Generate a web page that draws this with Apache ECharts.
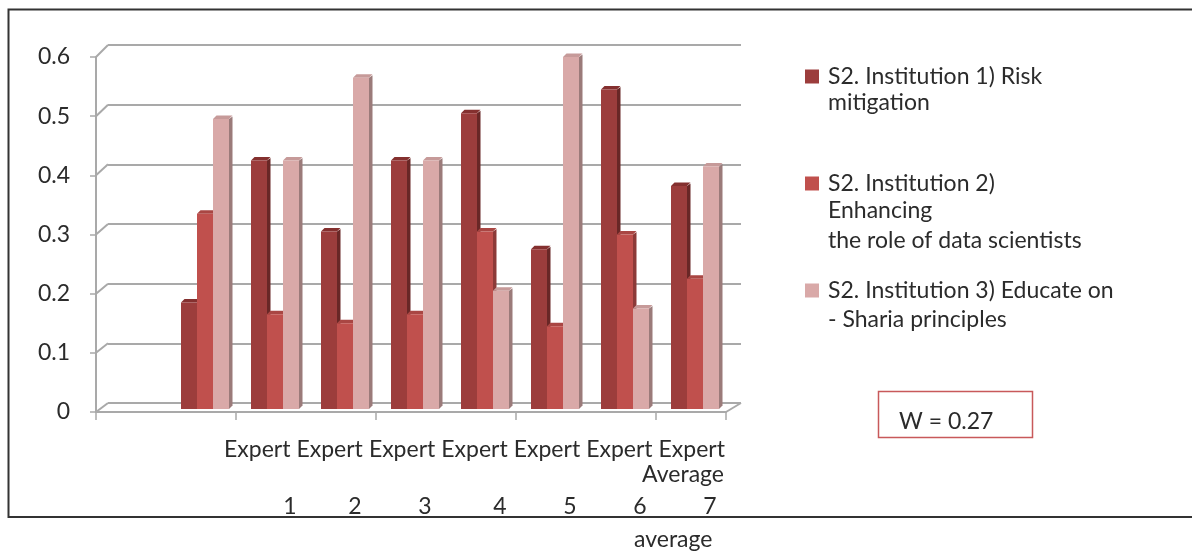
<!DOCTYPE html>
<html>
<head>
<meta charset="utf-8">
<style>html,body{margin:0;padding:0;background:#fff}#chart{width:1192px;height:552px}</style>
<script src="https://cdn.jsdelivr.net/npm/echarts@6/dist/echarts.min.js"></script>
</head>
<body>
<div id="chart"></div>
<script>
// Expert ratings per institution strategy
const slots = ['', 'Expert 1', 'Expert 2', 'Expert 3', 'Expert 4', 'Expert 5', 'Expert 6', 'Expert 7', 'Average average'];
const riskMitigation = [0.18, 0.42, 0.30, 0.42, 0.50, 0.27, 0.54, 0.377];
const dataScientists = [0.33, 0.16, 0.145, 0.16, 0.30, 0.14, 0.295, 0.22];
const shariaPrinciples = [0.49, 0.42, 0.56, 0.42, 0.20, 0.595, 0.17, 0.41];
const seriesNames = ['S2. Institution 1) Risk', 'S2. Institution 2)', 'S2. Institution 3) Educate on'];
const legendExtraLines = [['mitigation'], ['Enhancing', 'the role of data scientists'], ['- Sharia principles']];
const expertLabels = ['Expert', 'Expert', 'Expert', 'Expert', 'Expert', 'Expert', 'Expert'];
const expertNumbers = ['1', '2', '3', '4', '5', '6', '7'];
const statLabel = 'W = 0.27';

const FONT = 'Lato, sans-serif';
const TEXT = '#2b2b2b';
const GRID_GREY = '#a9a9a9';
const FS = 23;
const textStyle = { fontFamily: FONT, fontSize: FS, fill: TEXT, verticalAlign: 'middle' };

// Box-like column: front face plus lit top and shaded right side
function prism(front, side, top) {
  return function (params, api) {
    const base = api.coord([api.value(0), 0]);
    const head = api.coord([api.value(0), api.value(1)]);
    const w = 16, sx = 3.5, sy = 3.5;
    const x = base[0] - 24 + api.value(2) * w;
    const r = x + w;
    return {
      type: 'group',
      children: [
        { type: 'polygon', shape: { points: [[r, head[1]], [r + sx, head[1] - sy + 1], [r + sx, base[1] - sy], [r, base[1]]] }, style: { fill: side } },
        { type: 'polygon', shape: { points: [[x, head[1]], [x + sx, head[1] - sy], [r + sx, head[1] - sy], [r, head[1]]] }, style: { fill: top } },
        { type: 'rect', shape: { x: x, y: head[1], width: w, height: base[1] - head[1] }, style: { fill: front } }
      ]
    };
  };
}

function barSeries(name, values, order, front, side, top) {
  return {
    name: name,
    type: 'custom',
    xAxisIndex: 2,
    yAxisIndex: 2,
    itemStyle: { color: front },
    renderItem: prism(front, side, top),
    encode: { x: 0, y: 1 },
    data: values.map((v, i) => [i + 1, v, order]),
    z: 5 + order
  };
}

// Short diagonals joining the front value axis to the rear wall
const wallLinks = {
  type: 'custom',
  xAxisIndex: 0,
  yAxisIndex: 0,
  silent: true,
  legendHoverLink: false,
  renderItem: function (params, api) {
    const v = api.value(0);
    const p = api.coord([0, v]);
    const left = api.coord([0, v])[0] - 35;
    const dy = -9 - 3 * v / 0.6;
    return { type: 'line', shape: { x1: left, y1: p[1], x2: left + 12, y2: p[1] + dy }, style: { stroke: GRID_GREY, lineWidth: 2 } };
  },
  encode: { y: 0 },
  data: [[0], [0.1], [0.2], [0.3], [0.4], [0.5], [0.6]],
  z: 2
};

const graphics = [
  { type: 'rect', shape: { x: 8.5, y: 9.5, width: 1200, height: 507.5 }, style: { fill: 'none', stroke: '#333', lineWidth: 2 }, z: 0 },
  // floor edges
  { type: 'line', shape: { x1: 726, y1: 412, x2: 741, y2: 403 }, style: { stroke: GRID_GREY, lineWidth: 2 }, z: 1 },
  // statistic box
  { type: 'rect', shape: { x: 878.5, y: 391.5, width: 154, height: 46 }, style: { fill: '#fff', stroke: '#c8595a', lineWidth: 1.5 }, z: 1 },
  { type: 'text', x: 899, y: 422, style: Object.assign({}, textStyle, { text: statLabel }), z: 2 },
  // second row of the axis captions
  { type: 'text', x: 724, y: 475, style: Object.assign({}, textStyle, { text: 'Average', align: 'right' }) },
  { type: 'text', x: 634, y: 540, style: Object.assign({}, textStyle, { text: 'average' }) }
];

[290, 355, 425, 500, 570, 640, 710].forEach((x, i) => {
  graphics.push({ type: 'text', x: x, y: 507, style: Object.assign({}, textStyle, { text: expertNumbers[i], align: 'center' }) });
});

[[103], [211, 241], [320]].forEach((ys, i) => {
  ys.forEach((y, j) => {
    graphics.push({ type: 'text', x: 828, y: y, style: Object.assign({}, textStyle, { text: legendExtraLines[i][j] }) });
  });
});

const chart = echarts.init(document.getElementById('chart'), null, { renderer: 'canvas' });
chart.setOption({
  animation: false,
  backgroundColor: '#fff',
  grid: [
    // front plane: axis lines, ticks and value labels
    { left: 96, top: 57, width: 630, height: 355 },
    // rear wall: horizontal gridlines
    { left: 108, top: 45, width: 633, height: 358 },
    // column plane, between the two
    { left: 100, top: 54, width: 630, height: 355 },
    // caption row under the axis
    { left: 221, top: 300, width: 507, height: 135 }
  ],
  xAxis: [
    { gridIndex: 0, type: 'category', data: slots, axisLabel: { show: false },
      axisLine: { lineStyle: { color: GRID_GREY, width: 2 } },
      axisTick: { show: true, length: 8, lineStyle: { color: GRID_GREY, width: 1.5 } }, z: 3 },
    { gridIndex: 1, type: 'category', data: slots, show: false },
    { gridIndex: 2, type: 'category', data: slots, show: false },
    { gridIndex: 3, type: 'category', data: expertLabels, axisLine: { show: false }, axisTick: { show: false },
      axisLabel: { interval: 0, margin: 3, fontFamily: FONT, fontSize: FS, color: TEXT } }
  ],
  yAxis: [
    { gridIndex: 0, type: 'value', min: 0, max: 0.6, interval: 0.1, splitLine: { show: false },
      axisLine: { show: true, lineStyle: { color: GRID_GREY, width: 2 } },
      axisTick: { show: true, length: 6, lineStyle: { color: GRID_GREY, width: 1.5 } },
      axisLabel: { margin: 26, fontFamily: FONT, fontSize: FS, color: TEXT } },
    { gridIndex: 1, type: 'value', min: 0, max: 0.6, interval: 0.1,
      axisLine: { show: false }, axisTick: { show: false }, axisLabel: { show: false },
      splitLine: { show: true, lineStyle: { color: GRID_GREY, width: 2 } } },
    { gridIndex: 2, type: 'value', min: 0, max: 0.6, show: false, splitLine: { show: false } },
    { gridIndex: 3, type: 'value', show: false, splitLine: { show: false } }
  ],
  legend: {
    orient: 'vertical',
    left: 800,
    top: 60,
    itemWidth: 14,
    itemHeight: 14,
    itemGap: 84,
    icon: 'rect',
    data: seriesNames,
    textStyle: { fontFamily: FONT, fontSize: FS, color: TEXT, padding: [5, 0, 0, 4] },
    selectedMode: false
  },
  series: [
    wallLinks,
    barSeries(seriesNames[0], riskMitigation, 0, '#9c3d3c', '#692726', '#84302f'),
    barSeries(seriesNames[1], dataScientists, 1, '#c0504d', '#8c3a38', '#a94643'),
    barSeries(seriesNames[2], shariaPrinciples, 2, '#d9a9a8', '#9b7b7a', '#c69a99')
  ],
  graphic: graphics
});
</script>
</body>
</html>
